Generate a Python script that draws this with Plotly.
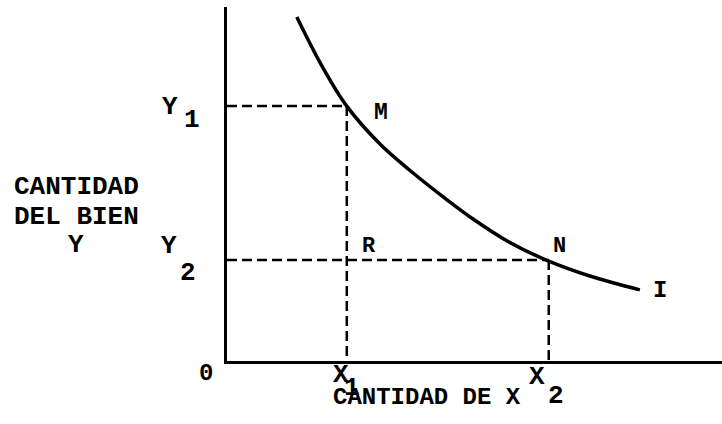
import plotly.graph_objects as go

# indifference curve I (axis units 0..10)
curve_x = [1.41, 1.92, 2.42, 3.09, 3.76, 4.40, 4.97, 5.66, 6.5, 7.33, 8.34]
curve_y = [9.72, 8.33, 7.20, 6.13, 5.31, 4.60, 4.01, 3.39, 2.82, 2.40, 2.01]

# the two bundles M and N
x_levels = [2.42, 6.5]     # X1, X2
y_levels = [7.20, 2.85]    # Y1, Y2
x_names = ["X", "X"]
x_subs = ["1", "2"]
y_names = ["Y", "Y"]
y_subs = ["1", "2"]

point_names = ["M", "N", "R"]
curve_name = "I"
x_title = "CANTIDAD DE X"
y_title = ["CANTIDAD", "DEL BIEN", "Y"]

FONT = "Liberation Mono"
INK = "black"

fig = go.Figure()

# dashed guides
dash = dict(color=INK, width=2.5, dash="10px,5px")
X1, X2 = x_levels
Y1, Y2 = y_levels
fig.add_trace(go.Scatter(x=[0, X1], y=[Y1, Y1], mode="lines", line=dash))
fig.add_trace(go.Scatter(x=[X1, X1], y=[Y1, 0], mode="lines", line=dash))
fig.add_trace(go.Scatter(x=[0, X2], y=[Y2, Y2], mode="lines", line=dash))
fig.add_trace(go.Scatter(x=[X2, X2], y=[Y2, 0], mode="lines", line=dash))

# the curve
fig.add_trace(go.Scatter(x=curve_x, y=curve_y, mode="lines",
                         line=dict(color=INK, width=3.5, shape="spline", smoothing=1)))


def label(text, x, y, dx, dy, size=26):
    fig.add_annotation(x=x, y=y, xref="x", yref="y", text=text, showarrow=False,
                       xshift=dx, yshift=dy, xanchor="center", yanchor="middle",
                       font=dict(family=FONT, size=size, color=INK, weight="bold"))


# point labels
label(point_names[0], X1, Y1, 34, -7, 23)
label(point_names[1], X2, Y2, 11, 14, 22)
label(point_names[2], X1, Y2, 22, 14, 22)
label(curve_name, curve_x[-1], curve_y[-1], 20, -1, 24)
label("0", 0, 0, -21, -12, 24)

# axis level labels with typewriter-style subscripts
label(y_names[0], 0, Y1, -57, -1)
label(y_subs[0], 0, Y1, -35, -14)
label(y_names[1], 0, Y2, -58, 14)
label(y_subs[1], 0, Y2, -39, -13)
label(x_names[0], X1, 0, -6, -14)
label(x_subs[0], X1, 0, 5, -27)
label(x_names[1], X2, 0, -12, -16)
label(x_subs[1], X2, 0, 7, -35)

# axis titles
fig.add_annotation(x=0.404, y=-0.102, xref="paper", yref="paper", text=x_title,
                   showarrow=False, xanchor="center", yanchor="middle",
                   font=dict(family=FONT, size=24, color=INK, weight="bold"))
for txt, yy in zip(y_title, [0.4915, 0.4068, 0.3277]):
    fig.add_annotation(x=-0.305, y=yy, xref="paper", yref="paper", text=txt,
                       showarrow=False, xanchor="center", yanchor="middle",
                       font=dict(family=FONT, size=26, color=INK, weight="bold"))

axis = dict(range=[0, 10], showline=True, linecolor=INK, linewidth=3,
            showgrid=False, zeroline=False, showticklabels=False, ticks="")
fig.update_xaxes(**axis)
fig.update_yaxes(**axis)
fig.update_traces(cliponaxis=False)
fig.update_layout(width=722, height=424, margin=dict(l=227, r=0, t=7, b=63),
                  plot_bgcolor="white", paper_bgcolor="white", showlegend=False)

fig.write_html("out.html", config={"displayModeBar": False},
               post_script="document.body.style.margin='0';")
